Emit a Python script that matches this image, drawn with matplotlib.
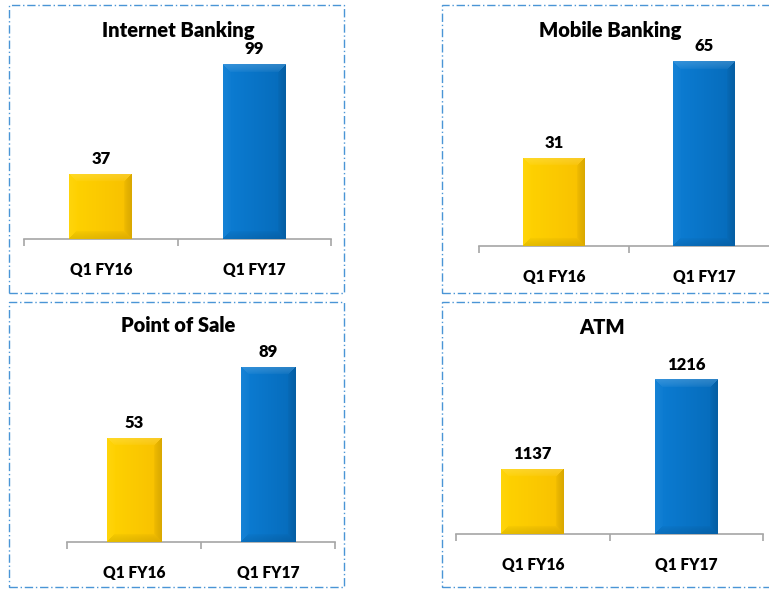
import matplotlib
matplotlib.use('Agg')
import matplotlib.pyplot as plt
import numpy as np
from matplotlib.patches import Rectangle
from matplotlib.colors import to_rgb

W, H = 769, 589

categories = ['Q1 FY16', 'Q1 FY17']
internet_banking = [37, 99]
mobile_banking = [31, 65]
point_of_sale = [53, 89]
atm = [1137, 1216]
titles = ['Internet Banking', 'Mobile Banking', 'Point of Sale', 'ATM']

plt.rcParams['font.family'] = ['Lato', 'DejaVu Sans']
fig = plt.figure(figsize=(W / 100, H / 100), dpi=100)

YELLOW = ('#FFD300', '#F8C000')
BLUE = ('#0C7DD4', '#066BBA')
BORDER = '#4A95D6'
AXIS = '#A6A6A6'


def px_axes(left, right, top, bottom):
    return fig.add_axes([left / W, 1 - bottom / H, (right - left) / W, (bottom - top) / H])


def shade(c, s):
    return np.where(s[..., None] >= 0, c + (1 - c) * s[..., None], c * (1 + s[..., None]))


def bevel_image(colors, wpx, hpx, b=8):
    cl, cr = np.array(to_rgb(colors[0])), np.array(to_rgb(colors[1]))
    yy, xx = np.mgrid[0:hpx, 0:wpx]
    t = (xx / max(wpx - 1, 1))[..., None]
    base = cl * (1 - t) + cr * t
    d = np.stack([yy, hpx - 1 - yy, xx, wpx - 1 - xx])
    idx = d.argmin(0)
    dmin = d.min(0)
    sh = np.array([0.16, -0.10, 0.04, -0.12])
    fade = np.clip(1 - dmin / b, 0, 1) ** 0.6
    s = sh[idx] * fade
    img = shade(base, s)
    return np.clip(img, 0, 1)


panels = [
    dict(title=titles[0], values=internet_banking, axis=(24, 331), top=40, base=239,
         ylim=(0, 112.6), title_xy=(178, 31), box=(9, 5, 344, 293)),
    dict(title=titles[1], values=mobile_banking, axis=(479, 779), top=40, base=246,
         ylim=(0, 72.4), title_xy=(610, 31), box=(442, 5, 790, 293)),
    dict(title=titles[2], values=point_of_sale, axis=(67, 335), top=340, base=542,
         ylim=(0, 102.7), title_xy=(178, 326), box=(9, 302, 344, 587)),
    dict(title=titles[3], values=atm, axis=(456, 763), top=340, base=534,
         ylim=(1079, 1251), title_xy=(602, 327), box=(442, 302, 790, 587)),
]

for p in panels:
    ax = px_axes(p['axis'][0], p['axis'][1], p['top'], p['base'])
    ax.set_facecolor('none')
    x = np.arange(len(categories))
    bars = ax.bar(x, [v - p['ylim'][0] for v in p['values']], bottom=p['ylim'][0],
                  width=0.41, color=[YELLOW[0], BLUE[0]], zorder=2)
    ax.set_xlim(-0.5, 1.5)
    ax.set_ylim(*p['ylim'])
    for bar, cols, v in zip(bars, [YELLOW, BLUE], p['values']):
        bx, by, bw, bh = bar.get_x(), bar.get_y(), bar.get_width(), bar.get_height()
        (x0, y0), (x1, y1) = ax.transData.transform([(bx, by), (bx + bw, by + bh)])
        img = bevel_image(cols, int(round(abs(x1 - x0))), int(round(abs(y1 - y0))))
        im = ax.imshow(img, extent=[bx, bx + bw, by, by + bh], origin='upper',
                       aspect='auto', zorder=3, interpolation='bilinear')
        im.set_clip_path(bar)
        ax.annotate(str(v), (bx + bw / 2, by + bh), xytext=(0, 5), textcoords='offset points',
                    ha='center', va='bottom', fontsize=12, fontweight='heavy', color='black')
    ax.set_xlim(-0.5, 1.5)
    ax.set_ylim(*p['ylim'])
    for s in ['top', 'left', 'right']:
        ax.spines[s].set_visible(False)
    ax.spines['bottom'].set_color(AXIS)
    ax.spines['bottom'].set_linewidth(1.2)
    ax.set_yticks([])
    ax.set_xticks(x)
    ax.set_xticklabels(categories, fontsize=11.2, fontweight='heavy')
    ax.tick_params(axis='x', which='major', length=0, pad=16.5)
    ax.set_xticks([-0.5, 0.5, 1.5], minor=True)
    ax.tick_params(axis='x', which='minor', length=5, direction='out', color=AXIS, width=1.2)

    fig.text(p['title_xy'][0] / W, 1 - p['title_xy'][1] / H, p['title'], ha='center', va='center',
             fontsize=14.5, fontweight='heavy', color='black')
    bx0, by0, bx1, by1 = p['box']
    fig.patches.append(Rectangle((bx0 / W, 1 - by1 / H), (bx1 - bx0) / W, (by1 - by0) / H,
                                 transform=fig.transFigure, fill=False, edgecolor=BORDER,
                                 linestyle=(0, (6, 2, 1, 2)), linewidth=1.0, zorder=0))

fig.savefig('out.png', dpi=100)
